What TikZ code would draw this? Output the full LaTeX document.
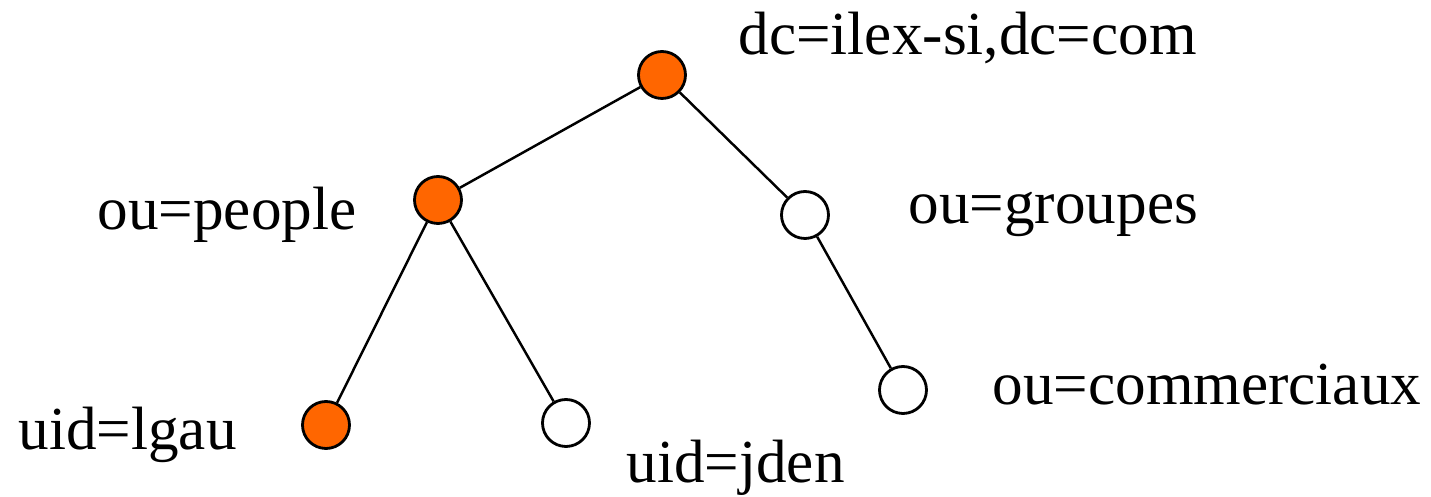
\documentclass[tikz,border=0pt]{standalone}
\usepackage{fontspec}
\setmainfont{Liberation Serif}
\usepackage{xcolor}
\definecolor{ldaporange}{RGB}{255,102,0}

\begin{document}
\begin{tikzpicture}[
  entry/.style={circle,draw,line width=0.8pt,fill=white,minimum size=0.47cm,inner sep=0pt},
  onpath/.style={entry,fill=ldaporange},
  dn/.style={anchor=base west,inner sep=0pt,font=\fontsize{17.4}{20}\selectfont}]
  \useasboundingbox (0,0) rectangle (14.31,4.97);
  \node[onpath] (root) at (6.62,4.22) {};
  \node[onpath] (people) at (4.38,2.97) {};
  \node[entry] (groupes) at (8.05,2.82) {};
  \node[onpath] (lgau) at (3.26,0.72) {};
  \node[entry] (jden) at (5.66,0.74) {};
  \node[entry] (comm) at (9.03,1.07) {};
  \draw[line width=0.7pt] (root)--(people);
  \draw[line width=0.7pt] (root)--(groupes);
  \draw[line width=0.7pt] (people)--(lgau);
  \draw[line width=0.7pt] (people)--(jden);
  \draw[line width=0.7pt] (groupes)--(comm);
  \node[dn] (rootlbl) at (7.38,4.42) {dc=ilex-si,dc=com};
  \node[dn] (peoplelbl) at (0.97,2.67) {ou=people};
  \node[dn] (groupeslbl) at (9.08,2.73) {ou=groupes};
  \node[dn] (commlbl) at (9.92,0.92) {ou=commerciaux};
  \node[dn] (lgaulbl) at (0.18,0.47) {uid=lgau};
  \node[dn] (jdenlbl) at (6.26,0.14) {uid=jden};
\end{tikzpicture}
\end{document}
